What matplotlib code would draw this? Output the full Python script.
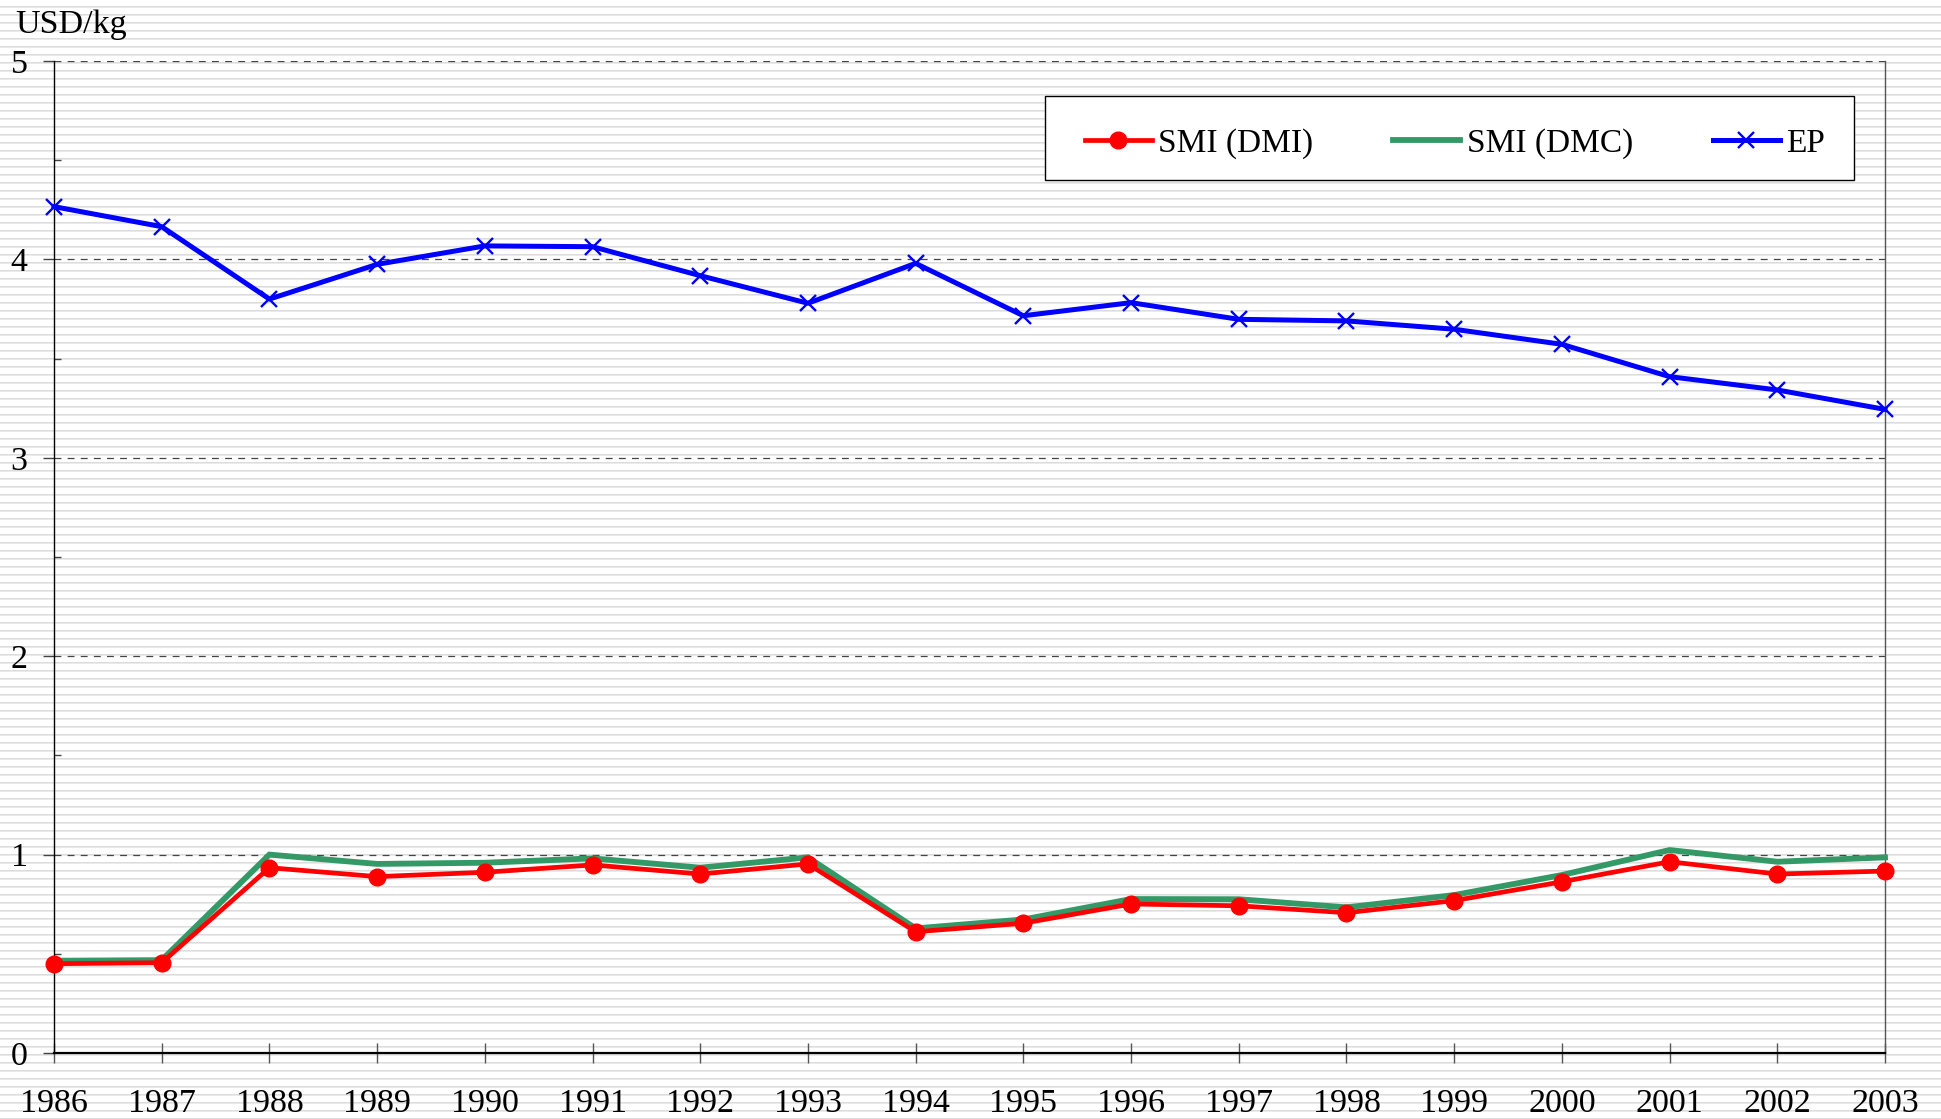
import numpy as np
import matplotlib
matplotlib.use('Agg')
import matplotlib.pyplot as plt
from matplotlib.patches import Rectangle
from matplotlib.ticker import MultipleLocator

plt.rcParams['font.family'] = ['Liberation Serif', 'DejaVu Serif']

# data (USD/kg)
years = list(range(1986, 2004))
smi_dmi = [0.45, 0.455, 0.934, 0.889, 0.911, 0.948, 0.902, 0.953, 0.611,
           0.654, 0.751, 0.742, 0.707, 0.768, 0.863, 0.964, 0.902, 0.917]
smi_dmc = [0.465, 0.468, 1.0, 0.953, 0.959, 0.981, 0.934, 0.986, 0.628,
           0.673, 0.776, 0.775, 0.734, 0.796, 0.897, 1.023, 0.964, 0.986]
ep = [4.266, 4.165, 3.80, 3.975, 4.068, 4.064, 3.918, 3.779, 3.98,
      3.716, 3.782, 3.698, 3.69, 3.648, 3.572, 3.409, 3.342, 3.244]

W, H = 1941, 1119
fig = plt.figure(figsize=(W / 100, H / 100), dpi=100)

# striped background over the whole figure
rows = np.full(H, 255.0)
rows[np.arange(H) % 8 == 6] = 220
rows[np.arange(H) % 8 == 7] = 234
bg = np.repeat(rows[:, None], W, axis=1) / 255.0
fig.figimage(np.dstack([bg, bg, bg]), xo=0, yo=0, origin='upper', zorder=-5)

ax = fig.add_axes([54 / W, 1 - 1053 / H, (1885 - 54) / W, (1053 - 61) / H])
ax.patch.set_alpha(0)

ax.plot(years, smi_dmc, color='#339966', lw=4.2, label='SMI (DMC)',
        clip_on=False, zorder=3, solid_joinstyle='miter')
ax.plot(years, smi_dmi, color='#ff0000', lw=3.4, marker='o', ms=12,
        label='SMI (DMI)', clip_on=False, zorder=4)
ax.plot(years, ep, color='#0000ff', lw=3.6, marker='x', ms=12, mew=1.7,
        label='EP', clip_on=False, zorder=4)

ax.set_xlim(1986, 2003)
ax.set_ylim(0, 5)
ax.set_xticks(years)
ax.yaxis.set_major_locator(MultipleLocator(1))
ax.yaxis.set_minor_locator(MultipleLocator(0.5))

ax.grid(axis='y', which='major', color='#444444', ls=(0, (5.5, 5)), lw=0.9)
ax.set_axisbelow(True)

ax.spines['top'].set_visible(False)
ax.spines['left'].set_color('black')
ax.spines['left'].set_linewidth(1.0)
ax.spines['bottom'].set_color('black')
ax.spines['bottom'].set_linewidth(1.6)
ax.spines['right'].set_color('#555555')
ax.spines['right'].set_linewidth(1.0)

ax.tick_params(axis='y', which='major', direction='out', length=8, width=1,
               color='#444444', labelsize=24.5, pad=11)
ax.tick_params(axis='y', which='minor', direction='in', length=5, width=1,
               color='#444444')
ax.tick_params(axis='x', direction='inout', length=15, width=1,
               color='#555555', labelsize=24.5, pad=18)

fig.text(15 / W, 1 - 33 / H, 'USD/kg', fontsize=24.5, va='baseline', ha='left')

# legend box drawn as its own frame, entries placed inside it
frame = Rectangle((1045 / W, 1 - 180 / H), (1854 - 1045) / W, (180 - 96) / H,
                  transform=fig.transFigure, facecolor='white',
                  edgecolor='black', lw=1.0, zorder=4.5, clip_on=False)
ax.add_patch(frame)

h, l = ax.get_legend_handles_labels()
order = [1, 0, 2]
leg = ax.legend([h[i] for i in order], [l[i] for i in order], ncol=3,
                loc='center left', bbox_to_anchor=(1085 / W, 1 - 144 / H),
                bbox_transform=fig.transFigure, fontsize=24, frameon=False,
                handlelength=2.0, handletextpad=0.2, columnspacing=2.4,
                borderpad=0, borderaxespad=0)
leg.set_zorder(5)

fig.savefig('out.png', dpi=100)
